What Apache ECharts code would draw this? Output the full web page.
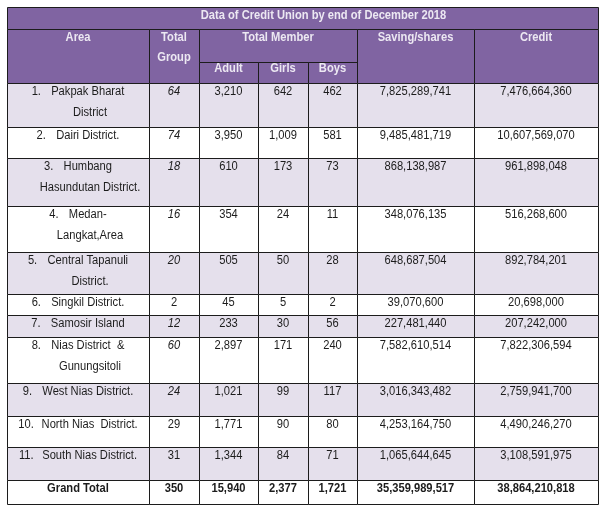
<!DOCTYPE html>
<html>
<head>
<meta charset="utf-8">
<script src="https://cdn.jsdelivr.net/npm/echarts@6/dist/echarts.min.js"></script>
<style>
  html, body { margin: 0; padding: 0; background: #fff; }
  #tableau { width: 605px; height: 510px; }
</style>
</head>
<body>
<div id="tableau"></div>
<script>
/* jshint esversion: 6 */

// ---------------------------------------------------------------------------
// DONNEES
const title = 'Data of Credit Union by end of December 2018';
const headers = ['Area', 'Total\nGroup', 'Total Member', 'Saving/shares', 'Credit'];
const subHeaders = ['Adult', 'Girls', 'Boys'];

const areaNames = [
  'Pakpak Bharat\nDistrict',
  'Dairi District.',
  'Humbang\nHasundutan District.',
  'Medan-\nLangkat,Area',
  'Central Tapanuli\nDistrict.',
  'Singkil District.',
  'Samosir Island',
  'Nias District  &\nGunungsitoli',
  'West Nias District.',
  'North Nias  District.',
  'South Nias District.'
];
const totalGroup = [64, 74, 18, 16, 20, 2, 12, 60, 24, 29, 31];
const adult = [3210, 3950, 610, 354, 505, 45, 233, 2897, 1021, 1771, 1344];
const girls = [642, 1009, 173, 24, 50, 5, 30, 171, 99, 90, 84];
const boys = [462, 581, 73, 11, 28, 2, 56, 240, 117, 80, 71];
const savings = [7825289741, 9485481719, 868138987, 348076135, 648687504, 39070600,
                 227481440, 7582610514, 3016343482, 4253164750, 1065644645];
const credit = [7476664360, 10607569070, 961898048, 516268600, 892784201, 20698000,
                207242000, 7822306594, 2759941700, 4490246270, 3108591975];
const grandTotalLabel = 'Grand Total';
const grandTotal = [350, 15940, 2377, 1721, 35359989517, 38864210818];

// ---------------------------------------------------------------------------
// MISE EN PAGE (px)
const colEdges = [7, 149, 199, 258, 308, 357, 474, 598];
const rowEdges = [83, 127, 158, 206, 252, 294, 315, 337, 383, 416, 447, 480, 504];
const titleTop = 7, headTop = 29, subTop = 62, headBottom = 83;
const italicGroup = [true, true, true, true, true, false, true, true, true, false, false];

const purple = '#8064a2';
const lavender = '#e5e0ec';
const headText = '#ece8f2';
const bodyText = '#1c1c1c';
const fontFamily = '"Liberation Sans", Arial, sans-serif';

let fmt = function (v) {
  return v.toLocaleString('en-US');
};

// ---------------------------------------------------------------------------
// CELLULES
const cells = [];
function addCell(c0, c1, y0, y1, fill, texts) {
  cells.push({c0: c0, c1: c1, y0: y0, y1: y1, fill: fill, texts: texts});
}
function head(text, dy) {
  return {text: text, dy: dy, bold: true, color: headText};
}

// titre
addCell(0, 7, titleTop, headTop, purple, [{text: title, dx: 21, dy: 9, bold: true, color: headText}]);

// entetes
addCell(0, 1, headTop, headBottom, purple, [head(headers[0], 9)]);
addCell(1, 2, headTop, headBottom, purple, headers[1].split('\n').map(function (t, k) {
  return head(t, 9 + k * 20);
}));
addCell(2, 5, headTop, subTop, purple, [head(headers[2], 9)]);
subHeaders.forEach(function (t, k) {
  addCell(2 + k, 3 + k, subTop, headBottom, purple, [head(t, 7)]);
});
addCell(5, 6, headTop, headBottom, purple, [head(headers[3], 9)]);
addCell(6, 7, headTop, headBottom, purple, [head(headers[4], 9)]);

// lignes de donnees
areaNames.forEach(function (name, i) {
  const y0 = rowEdges[i], y1 = rowEdges[i + 1];
  const fill = i % 2 === 0 ? lavender : '#ffffff';
  const lines = name.split('\n');
  const areaTexts = [{
    text: '{n|' + (i + 1) + '.}{t|' + lines[0] + '}',
    dy: 9,
    rich: {n: {width: i < 9 ? 21 : 25}}
  }];
  if (lines[1]) {
    areaTexts.push({text: lines[1], dx: 12, dy: 30});
  }
  addCell(0, 1, y0, y1, fill, areaTexts);
  addCell(1, 2, y0, y1, fill, [{text: String(totalGroup[i]), dy: 9, italic: italicGroup[i]}]);
  [adult, girls, boys, savings, credit].forEach(function (serie, k) {
    addCell(2 + k, 3 + k, y0, y1, fill, [{text: fmt(serie[i]), dy: 9}]);
  });
});

// total general
const gt0 = rowEdges[rowEdges.length - 2], gt1 = rowEdges[rowEdges.length - 1];
addCell(0, 1, gt0, gt1, '#ffffff', [{text: grandTotalLabel, dy: 9, bold: true}]);
grandTotal.forEach(function (v, k) {
  addCell(1 + k, 2 + k, gt0, gt1, '#ffffff', [{text: fmt(v), dy: 9, bold: true}]);
});

// ---------------------------------------------------------------------------
// RENDU
function textFont(t) {
  return {
    fontFamily: fontFamily,
    fontSize: 12,
    fontWeight: t.bold ? 'bold' : 'normal',
    fontStyle: t.italic ? 'italic' : 'normal'
  };
}

function renderCell(params, api) {
  'use strict';
  const cell = cells[params.dataIndex];
  const p0 = api.coord([colEdges[cell.c0], cell.y0]);
  const p1 = api.coord([colEdges[cell.c1], cell.y1]);
  const cx = (p0[0] + p1[0]) / 2;
  const children = [{
    type: 'rect',
    shape: {
      x: Math.round(p0[0]) + 0.5,
      y: Math.round(p0[1]) + 0.5,
      width: Math.round(p1[0] - p0[0]),
      height: Math.round(p1[1] - p0[1])
    },
    style: {fill: cell.fill, stroke: '#1c1c1c', lineWidth: 1}
  }];
  cell.texts.forEach(function (t) {
    const f = textFont(t);
    const style = Object.assign({
      text: t.text,
      x: 0,
      y: 0,
      align: 'center',
      verticalAlign: 'middle',
      fill: t.color || bodyText
    }, f);
    if (t.rich) {
      style.rich = {
        n: Object.assign({width: t.rich.n.width, align: 'left', fill: t.color || bodyText}, f),
        t: Object.assign({fill: t.color || bodyText}, f)
      };
    }
    children.push({
      type: 'text',
      x: cx + (t.dx || 0),
      y: p0[1] + t.dy,
      scaleX: 0.93,
      style: style
    });
  });
  return {type: 'group', children: children};
}

var tableau = echarts.init(document.getElementById('tableau'), null, {renderer: 'canvas'});
var tableauOption = {
  animation: false,
  backgroundColor: '#ffffff',
  grid: {left: 0, right: 0, top: 0, bottom: 0, containLabel: false, outerBoundsMode: 'none'},
  xAxis: {type: 'value', min: 0, max: 605, show: false},
  yAxis: {type: 'value', min: 0, max: 510, inverse: true, show: false},
  series: [{
    type: 'custom',
    silent: true,
    clip: false,
    renderItem: renderCell,
    data: cells.map(function (c) { return [colEdges[c.c0], c.y0]; })
  }]
};
tableau.setOption(tableauOption);
</script>
</body>
</html>
